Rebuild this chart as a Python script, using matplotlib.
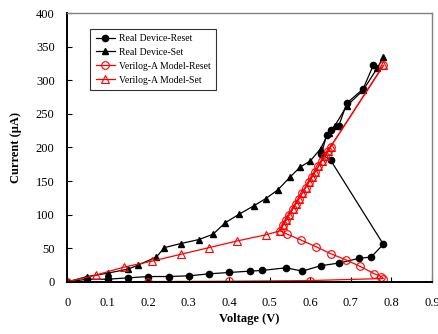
import numpy as np
import matplotlib.pyplot as plt

plt.rcParams['font.family'] = ['Liberation Serif', 'DejaVu Serif']

# Real device - reset (black circles)
v_rr = [0, 0.05, 0.1, 0.15, 0.2, 0.25, 0.3, 0.35, 0.4, 0.45, 0.48, 0.54, 0.58,
        0.625, 0.67, 0.72, 0.75, 0.78, 0.65, 0.627, 0.64, 0.65, 0.67, 0.69, 0.73, 0.755]
i_rr = [0, 4, 4, 6, 8, 8, 9, 12, 14, 16, 17, 21, 16,
        24, 28, 35, 37, 56, 181, 190, 218, 226, 232, 266, 287, 322]

# Real device - set (black triangles)
v_rs = [0, 0.05, 0.1, 0.15, 0.175, 0.22, 0.24, 0.28, 0.325, 0.36, 0.39, 0.425, 0.46,
        0.49, 0.52, 0.55, 0.575, 0.6, 0.625, 0.645, 0.66, 0.69, 0.73, 0.765, 0.78]
i_rs = [0, 8, 13, 19, 25, 37, 51, 57, 63, 71, 88, 101, 113,
        124, 137, 156, 171, 180, 198, 222, 232, 262, 285, 318, 335]

# Verilog-A model - set (red open triangles)
v_ms = [0, 0.07, 0.14, 0.21, 0.28, 0.35, 0.42, 0.49, 0.525, 0.532, 0.54, 0.548,
        0.556, 0.564, 0.572, 0.58, 0.588, 0.596, 0.604, 0.612, 0.62, 0.628, 0.636,
        0.644, 0.65, 0.78]
i_ms = [0, 10, 22, 31, 41, 51, 61, 70, 76, 84, 92, 100,
        108, 116, 124, 132, 140, 148, 156, 164, 172, 180, 188,
        195, 201, 322]

# Verilog-A model - reset (red open circles)
v_mr = [0.78, 0.65, 0.644, 0.636, 0.628, 0.62, 0.612, 0.604, 0.596, 0.588, 0.58,
        0.572, 0.564, 0.556, 0.548, 0.54, 0.532, 0.525, 0.543, 0.578, 0.615, 0.65,
        0.687, 0.723, 0.758, 0.775, 0.78, 0.6, 0.4, 0.2, 0]
i_mr = [322, 201, 195, 188, 180, 172, 164, 156, 148, 140, 132,
        124, 116, 108, 100, 92, 84, 76, 71, 62, 52, 42,
        33, 23, 12, 8, 5, 2, 1, 0.5, 0]

fig = plt.figure(figsize=(4.39, 3.34), dpi=100)
ax = fig.add_axes([0.153, 0.156, 0.831, 0.805])

ax.plot(v_rr, i_rr, color='black', lw=0.9, marker='o', ms=4.5,
        label='Real Device-Reset')
ax.plot(v_rs, i_rs, color='black', lw=0.9, marker='^', ms=4.8,
        label='Real Device-Set')
ax.plot(v_mr, i_mr, color='red', lw=0.9, marker='o', ms=5.5, mfc='none',
        mew=0.8, label='Verilog-A Model-Reset')
ax.plot(v_ms, i_ms, color='red', lw=0.9, marker='^', ms=5.5, mfc='none',
        mew=0.8, label='Verilog-A Model-Set')

ax.set_xlim(0, 0.9)
ax.set_ylim(0, 400)
ax.set_xticks(np.arange(0, 0.91, 0.1))
ax.set_xticklabels(['0', '0.1', '0.2', '0.3', '0.4', '0.5', '0.6', '0.7', '0.8', '0.9'])
ax.set_yticks(np.arange(0, 401, 50))
ax.tick_params(direction='in', length=3.5, width=0.8, labelsize=9)
ax.tick_params(axis='x', pad=11)
ax.tick_params(axis='y', pad=9)

ax.spines['left'].set_linewidth(1.4)
ax.spines['bottom'].set_linewidth(1.4)
for s in ['top', 'right']:
    ax.spines[s].set_color('#808080')
    ax.spines[s].set_linewidth(1.0)

ax.set_xlabel('Voltage (V)', fontsize=9, fontweight='bold', labelpad=3)
ax.set_ylabel('Current (\u03bcA)', fontsize=9, fontweight='bold', labelpad=10)

leg = ax.legend(loc='upper left', bbox_to_anchor=(0.05, 0.96), fontsize=7,
                frameon=True, fancybox=False, edgecolor='black',
                handlelength=2.0, borderpad=0.55, labelspacing=0.5,
                handletextpad=0.4)
leg.get_frame().set_linewidth(0.8)

fig.savefig('out.png', dpi=100)
